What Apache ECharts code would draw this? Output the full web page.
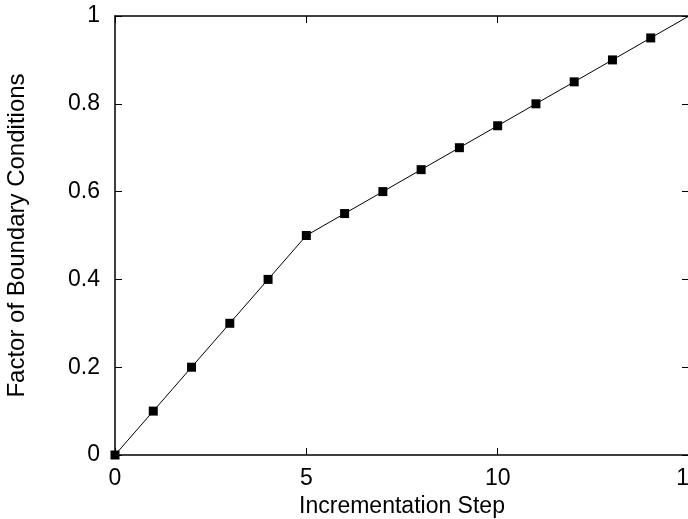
<!DOCTYPE html>
<html>
<head>
<meta charset="utf-8">
<script src="https://cdn.jsdelivr.net/npm/echarts@6/dist/echarts.min.js"></script>
<style>
  html, body { margin: 0; padding: 0; background: #fff; }
  #chart { width: 688px; height: 519px; }
</style>
</head>
<body>
<div id="chart"></div>
<script>
// incrementation steps and load factor
const steps = [0, 1, 2, 3, 4, 5, 6, 7, 8, 9, 10, 11, 12, 13, 14, 15];
const factor = [0, 0.1, 0.2, 0.3, 0.4, 0.5, 0.55, 0.6, 0.65, 0.7, 0.75, 0.8, 0.85, 0.9, 0.95, 1.0];
const xTicks = [0, 5, 10, 15];
const yTicks = [0, 0.2, 0.4, 0.6, 0.8, 1];

const font = 'Liberation Sans, Arial, Helvetica, sans-serif';
const lastStep = steps[steps.length - 1];

const points = steps.map((s, i) => {
  // last point sits on the corner of the frame, no marker drawn there
  if (s === lastStep) return { value: [s, factor[i]], symbol: 'none' };
  return [s, factor[i]];
});

const tickInside = { show: true, inside: true, length: 7, lineStyle: { color: '#000', width: 1 } };
const frameLine = { show: true, onZero: false, lineStyle: { color: '#000', width: 1.5 } };

const chart = echarts.init(document.getElementById('chart'));
chart.setOption({
  animation: false,
  backgroundColor: '#fff',
  grid: { left: 115, right: -1, top: 16, bottom: 64, containLabel: false, outerBoundsMode: 'none' },
  xAxis: [
    {
      type: 'value', min: 0, max: 15, interval: 5,
      name: 'Incrementation Step', nameLocation: 'middle', nameGap: 37,
      nameTextStyle: { fontFamily: font, fontSize: 23, color: '#000' },
      axisLine: frameLine, axisTick: tickInside,
      axisLabel: {
        margin: 12, fontFamily: font, fontSize: 23, color: '#000',
        formatter: v => xTicks.includes(v) ? String(v) : ''
      },
      splitLine: { show: false }
    },
    {
      type: 'value', position: 'top', min: 0, max: 15, interval: 5,
      axisLine: frameLine, axisTick: tickInside,
      axisLabel: { show: false }, splitLine: { show: false }
    }
  ],
  yAxis: [
    {
      type: 'value', min: 0, max: 1, interval: 0.2,
      name: 'Factor of Boundary Conditions', nameLocation: 'middle', nameGap: 86,
      nameTextStyle: { fontFamily: font, fontSize: 24, color: '#000' },
      axisLine: frameLine, axisTick: tickInside,
      axisLabel: {
        margin: 15, fontFamily: font, fontSize: 23, color: '#000',
        formatter: v => {
          const t = yTicks.find(y => Math.abs(y - v) < 1e-9);
          return t === undefined ? '' : String(+t.toFixed(1));
        }
      },
      splitLine: { show: false }
    },
    {
      type: 'value', position: 'right', min: 0, max: 1, interval: 0.2,
      axisLine: frameLine, axisTick: tickInside,
      axisLabel: { show: false }, splitLine: { show: false }
    }
  ],
  series: [
    {
      type: 'line',
      data: points,
      symbol: 'rect',
      symbolSize: 9,
      showAllSymbol: true,
      clip: false,
      lineStyle: { color: '#000', width: 1 },
      itemStyle: { color: '#000' }
    }
  ]
});
</script>
</body>
</html>
